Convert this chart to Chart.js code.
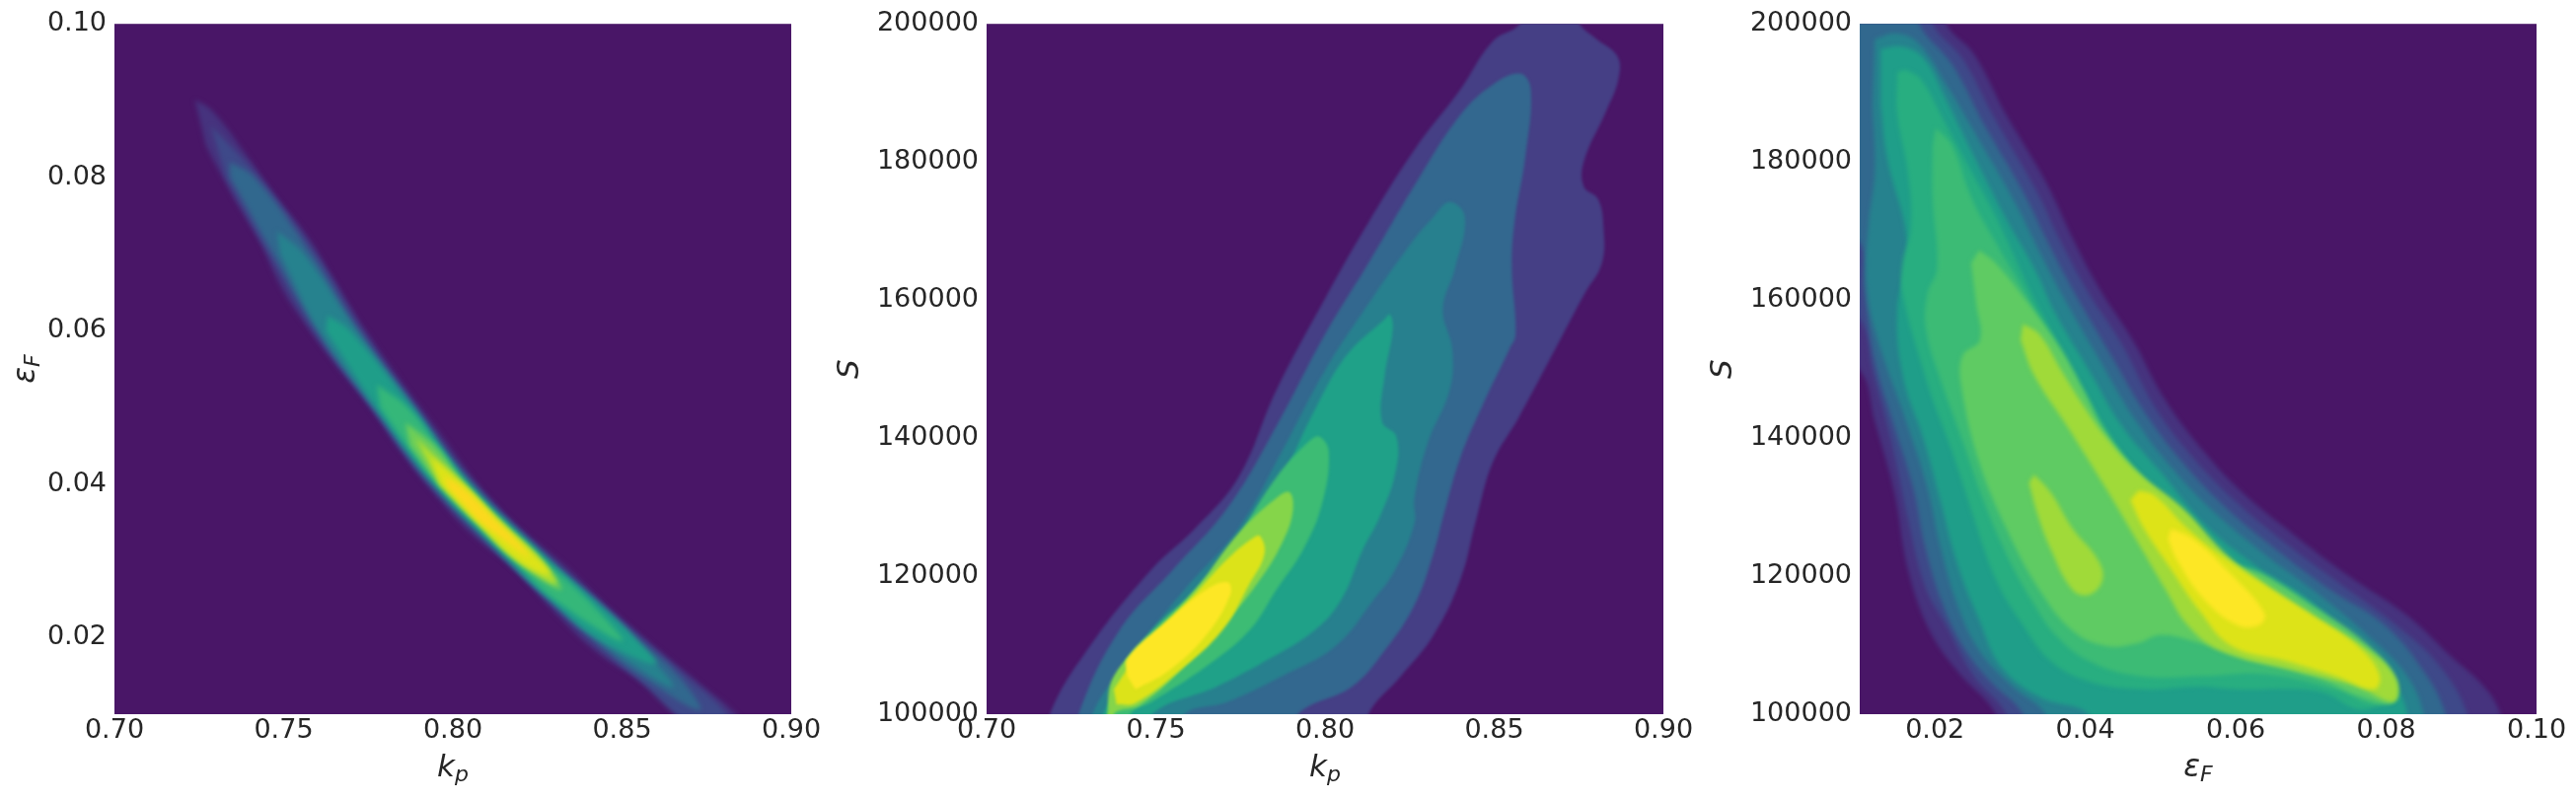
<!DOCTYPE html>
<html>
<head>
<meta charset="utf-8">
<title>Posterior density contours</title>
<script src="https://cdn.jsdelivr.net/npm/chart.js@4"></script>
<style>
  body { margin: 0; background: #fff; overflow: hidden; }
  canvas { position: absolute; top: 0; }
</style>
</head>
<body>
<canvas id="panelA" width="840" height="811" style="left:0"></canvas>
<canvas id="panelB" width="885" height="811" style="left:840px"></canvas>
<canvas id="panelC" width="886" height="811" style="left:1725px"></canvas>
<script>
// Tick values
const kpTicks = [0.70, 0.75, 0.80, 0.85, 0.90];
const epsTicks = [0.02, 0.04, 0.06, 0.08, 0.10];
const sTicks = [100000, 120000, 140000, 160000, 180000, 200000];

// Panel A: eps_F against k_p, contour outlines from lowest level to highest
const kpEps1 = [[.7238,.0901],[.7286,.0888],[.7382,.0834],[.7478,.0775],[.7574,.0721],[.7638,.0675],[.775,.0595],[.7846,.0535],[.7958,.0469],[.807,.0402],[.8182,.0349],[.8326,.0296],[.8469,.0236],[.8613,.0182],[.8741,.0136],[.8837,.01],[.8860,.008],[.8680,.008],[.8693,.01],[.8581,.0136],[.8422,.0182],[.8294,.0236],[.8182,.0289],[.8054,.0335],[.7942,.0389],[.7846,.0442],[.775,.0502],[.7654,.0555],[.7574,.0602],[.7494,.0655],[.743,.0715],[.735,.0775],[.727,.0841]];
const kpEps2 = [[.7285,.0867],[.7426,.08],[.7593,.07],[.7732,.06],[.7892,.05],[.8065,.04],[.8297,.03],[.8426,.025],[.8555,.02],[.8685,.015],[.8810,.01],[.882,.008],[.872,.008],[.8535,.015],[.8395,.02],[.8274,.025],[.8154,.03],[.7929,.04],[.776,.05],[.7588,.06],[.7457,.07],[.733,.08]];
const kpEps3 = [[.734,.082],[.7413,.08],[.758,.07],[.772,.06],[.7886,.05],[.8057,.04],[.8288,.03],[.8415,.025],[.854,.02],[.8665,.015],[.873,.0105],[.8555,.015],[.841,.02],[.8285,.025],[.8163,.03],[.7937,.04],[.7766,.05],[.76,.06],[.747,.07],[.7343,.08]];
const kpEps4 = [[.748,.073],[.756,.07],[.7715,.06],[.7884,.05],[.8051,.04],[.8286,.03],[.8415,.025],[.853,.02],[.865,.0135],[.842,.02],[.8285,.025],[.8166,.03],[.7943,.04],[.7768,.05],[.7605,.06],[.749,.07]];
const kpEps5 = [[.763,.062],[.7695,.06],[.7877,.05],[.8046,.04],[.8281,.03],[.841,.025],[.8535,.02],[.86,.0165],[.8425,.02],[.829,.025],[.8171,.03],[.7948,.04],[.7775,.05],[.7625,.06]];
const kpEps6 = [[.7775,.053],[.7866,.05],[.7954,.045],[.804,.04],[.815,.035],[.827,.03],[.8395,.025],[.85,.0195],[.83,.025],[.818,.03],[.8064,.035],[.7954,.04],[.7866,.045],[.7786,.05]];
const kpEps7 = [[.786,.048],[.7946,.045],[.8034,.04],[.8144,.035],[.8264,.03],[.832,.0262],[.8188,.03],[.807,.035],[.796,.04],[.7874,.045]];
const kpEps8 = [[.789,.046],[.8033,.04],[.8143,.035],[.8262,.03],[.8305,.027],[.819,.03],[.8071,.035],[.7961,.04]];
const kpEps9 = [[.7935,.0435],[.8028,.04],[.8138,.035],[.8257,.03],[.8285,.0282],[.8195,.03],[.8076,.035],[.7966,.04]];
const kpEps10 = [[.7975,.041],[.8028,.0395],[.8088,.037],[.8131,.035],[.8178,.033],[.8225,.0305],[.8145,.033],[.8083,.035],[.804,.037],[.7988,.0395]];
const kpEpsColors = ['#46337e', '#3e4989', '#31688e', '#26828e', '#1f9e89', '#35b779', '#6ece58', '#b5de2b', '#dde318', '#fbd81e'];

// Panel B: S against k_p
const kpS1 = [[.7187,96000],[.7187,100000],[.7296,109200],[.7488,121000],[.7616,126900],[.7744,134300],[.7856,146900],[.80,160200],[.8128,171200],[.8272,182300],[.84,190500],[.8496,197500],[.8576,200000],[.8600,204000],[.8720,204000],[.8752,200000],[.88,197900],[.8864,195300],[.8867,192000],[.8832,187500],[.8765,180100],[.8765,176400],[.8807,174600],[.8823,170500],[.8818,165300],[.8767,160900],[.8687,153500],[.8575,143200],[.8496,136500],[.8448,128400],[.84,119500],[.832,111400],[.8224,105500],[.8128,100000],[.8128,96000]];
const kpS2 = [[.7272,96000],[.7272,100000],[.7392,112100],[.7552,121000],[.7712,129900],[.7856,141700],[.80,155000],[.8128,165300],[.8272,177200],[.84,186800],[.8496,191200],[.8576,192800],[.8608,190500],[.8592,180800],[.856,171300],[.8552,164600],[.8563,155000],[.8544,152800],[.8464,144600],[.84,137200],[.8352,129100],[.832,123200],[.8264,115800],[.8176,109200],[.808,104000],[.792,100000],[.792,96000]];
const kpS3 = [[.7312,96000],[.7312,100000],[.744,109200],[.7584,118000],[.7744,126900],[.7872,138000],[.80,149800],[.8128,159400],[.8256,168300],[.832,172000],[.8368,174200],[.8413,172000],[.8384,164600],[.8348,158700],[.8376,152800],[.8368,146900],[.8304,139400],[.8264,131300],[.8264,127600],[.8208,121000],[.8144,116600],[.8032,109900],[.7872,105500],[.7712,101800],[.7584,100000],[.7584,96000]];
const kpS4 = [[.7344,96000],[.7344,100000],[.7488,110600],[.7616,117300],[.7744,124700],[.7872,134300],[.7968,143900],[.8064,152000],[.8176,157200],[.8192,157900],[.82,155700],[.8176,149000],[.8168,142400],[.8211,140200],[.8208,135000],[.816,128400],[.8112,123900],[.8048,116600],[.7968,112100],[.7824,107700],[.768,104000],[.7488,100000],[.7488,96000]];
const kpS5 = [[.736,96000],[.736,100000],[.7392,106200],[.7488,112100],[.7616,118000],[.7728,124700],[.7856,134300],[.7952,139500],[.7984,140200],[.8011,138000],[.7992,130600],[.7936,123900],[.7856,118000],[.7776,112100],[.7648,106900],[.7488,101800],[.7424,100000],[.7424,96000]];
const kpS6 = [[.7357,96000],[.7357,100000],[.7376,105500],[.7488,111400],[.7616,118000],[.7744,126200],[.7856,131300],[.7896,132100],[.7904,129100],[.7872,124700],[.7808,119500],[.7712,113600],[.7584,106900],[.7456,101400],[.7376,100000],[.7376,96000]];
const kpS7 = [[.7376,103600],[.7456,109200],[.76,116600],[.7712,122500],[.7784,125400],[.7808,125800],[.7821,123200],[.7776,118800],[.7696,112100],[.7568,106200],[.744,101600],[.7384,101400]];
const kpS8 = [[.7416,105500],[.7416,108100],[.7536,113600],[.7648,118000],[.7712,119100],[.772,117300],[.7648,111400],[.7536,106200],[.744,103600]];
const kpSColors = ['#453f85', '#33688f', '#27808e', '#1fa188', '#3dbc74', '#85d54a', '#dce319', '#fde725'];

// Panel C: S against eps_F
const epsS1 = [[.005,204000],[.0215,204000],[.0215,200000],[.0252,195600],[.0295,186800],[.0347,177200],[.0383,169000],[.0419,161600],[.0463,154200],[.0507,145400],[.0558,138000],[.0609,132100],[.0675,126200],[.0748,120200],[.0828,114300],[.0886,108400],[.093,104000],[.0952,100000],[.0952,96000],[.0281,96000],[.0281,100000],[.023,106200],[.0193,112100],[.0164,121000],[.0146,132100],[.012,142400],[.01,149800],[.005,151000]];
const epsS2 = [[.005,204000],[.0197,204000],[.0197,200000],[.0237,194900],[.0281,186000],[.0332,176400],[.0368,168300],[.0405,160900],[.0449,153500],[.0492,144600],[.0543,137200],[.0602,130600],[.0667,124700],[.074,118800],[.0813,112900],[.0872,106900],[.0908,100000],[.0908,96000],[.0295,96000],[.0295,100000],[.0252,105500],[.0215,112800],[.0186,118800],[.0164,128400],[.0142,139500],[.0117,149800],[.01,157200],[.005,160000]];
const epsS3 = [[.005,204000],[.0179,204000],[.0179,200000],[.0223,194100],[.0266,185300],[.0317,175700],[.0354,167500],[.039,160200],[.0434,152000],[.0478,143900],[.0529,136500],[.0587,129900],[.0653,123900],[.0726,118000],[.0799,112800],[.085,106200],[.0879,100000],[.0879,96000],[.0317,96000],[.0317,100000],[.0274,104700],[.0237,109900],[.0208,116600],[.0186,124700],[.0171,132800],[.0146,141700],[.012,151300],[.0106,161600],[.01,168300],[.005,170000]];
const epsS4 = [[.012,197800],[.015,198600],[.0179,197100],[.0215,191200],[.0259,183100],[.0306,174200],[.0343,166100],[.0376,159400],[.0419,151300],[.0463,143200],[.0514,135800],[.0573,129100],[.0638,123200],[.0711,117300],[.0784,110600],[.0828,105500],[.085,100000],[.085,96000],[.0347,96000],[.0347,100000],[.0303,104000],[.0259,109200],[.023,115800],[.0208,123900],[.019,132800],[.0164,141700],[.012,155700],[.0109,163100],[.0112,171200],[.012,178600],[.0117,188200]];
const epsS5 = [[.0128,196400],[.0157,196700],[.0186,194900],[.0215,189000],[.0252,180800],[.0295,171700],[.0332,164600],[.0361,157900],[.0405,149800],[.0449,141700],[.05,135100],[.0558,127600],[.0624,121700],[.0697,116600],[.077,109200],[.0813,104000],[.0828,100000],[.0828,96000],[.0405,96000],[.0405,100000],[.0339,102500],[.0288,106900],[.0259,113600],[.023,121700],[.0208,130600],[.0186,139500],[.0157,149100],[.015,158700],[.0164,167500],[.0136,180800],[.0128,188200]];
const epsS6 = [[.0161,193400],[.0182,191900],[.0215,185300],[.0252,177900],[.0288,170500],[.0325,161700],[.0354,155700],[.039,148300],[.0434,140200],[.0485,132800],[.0543,125400],[.0609,119500],[.0682,115100],[.0762,107700],[.0802,103300],[.0769,100700],[.0711,103300],[.0602,103600],[.0551,104000],[.0478,103600],[.0405,104700],[.0354,107700],[.0317,112900],[.0281,119500],[.0252,128400],[.0223,138000],[.0193,146900],[.0157,160900],[.0157,165300],[.0168,170500],[.0164,178600],[.015,186800],[.015,193000]];
const epsS7 = [[.0201,184900],[.0223,182300],[.0248,174900],[.0281,168300],[.0317,161600],[.0346,155700],[.0383,147600],[.0427,139500],[.0478,131300],[.0536,124700],[.0602,119500],[.0675,115100],[.0748,109900],[.0799,105500],[.081,102100],[.0784,101400],[.0733,103600],[.0638,105800],[.0558,105500],[.0471,105500],[.0405,107700],[.0361,111400],[.0328,116600],[.0295,123200],[.0266,130600],[.0237,139500],[.0208,148300],[.0188,155700],[.019,160900],[.0203,164600],[.0197,174900],[.0197,182300]];
const epsS8 = [[.0259,167200],[.0281,165300],[.0325,159400],[.0368,152800],[.0398,146900],[.0427,140900],[.0471,134900],[.0529,129100],[.0587,122500],[.0638,120200],[.0711,115100],[.0777,109900],[.0813,105100],[.081,101800],[.0769,102500],[.0703,105500],[.0602,108400],[.0543,110600],[.05,111500],[.047,110300],[.0427,109900],[.0383,112100],[.0339,118000],[.0295,126900],[.0259,136500],[.0235,147600],[.0237,152000],[.026,154200],[.0255,159400],[.0248,165300]];
const epsS9 = [[.0317,156500],[.0339,155000],[.0368,149800],[.0398,144600],[.0427,140200],[.0471,134900],[.0529,129900],[.0587,123200],[.0638,118800],[.0711,113600],[.0777,109200],[.0813,105100],[.081,101800],[.0762,104000],[.0682,106200],[.058,109200],[.0536,112900],[.0507,118000],[.0471,124700],[.0427,132800],[.0376,141700],[.0332,149100],[.0314,154200]];
const epsS9b = [[.0332,134700],[.0354,132100],[.0383,126900],[.0416,122500],[.0423,119500],[.0405,117300],[.0383,118000],[.0354,123900],[.0336,129100],[.0325,133500]];
const epsS10 = [[.0471,132400],[.0492,131700],[.0536,126900],[.0587,122500],[.0638,118800],[.0703,114300],[.0762,109900],[.0791,105800],[.0784,103600],[.0733,105500],[.0667,107700],[.0594,109900],[.0551,115100],[.0514,121000],[.0478,126900],[.046,131000]];
const epsS11 = [[.0514,126900],[.0543,125400],[.0587,121000],[.0638,114700],[.0631,112900],[.0602,112900],[.0558,116600],[.0521,122500],[.051,125400]];
const epsSColors = ['#46337e', '#3e4989', '#31688e', '#26828e', '#1f9e89', '#28ae80', '#3cbb75', '#5fcb63', '#a0da39', '#a0da39', '#dde318', '#fde725'];

const plotBackground = '#491667';
const textColor = '#262626';
const fontFamily = '"DejaVu Sans"';

// Draws an italic letter with a smaller subscript after it, centred on the current origin
function drawMathLabel(ctx, base, sub) {
    ctx.fillStyle = textColor;
    ctx.textBaseline = 'middle';
    ctx.textAlign = 'left';
    ctx.font = 'italic 31px ' + fontFamily;
    const baseWidth = ctx.measureText(base).width;
    ctx.font = 'italic 22px ' + fontFamily;
    const subWidth = sub ? ctx.measureText(sub).width : 0;
    const start = -(baseWidth + subWidth) / 2;
    ctx.font = 'italic 31px ' + fontFamily;
    ctx.fillText(base, start, 0);
    if (sub) {
        ctx.font = 'italic 22px ' + fontFamily;
        ctx.fillText(sub, start + baseWidth, 7);
    }
}

function makePanel(id, cfg) {
    const ticksStyle = {
        color: textColor,
        font: { family: fontFamily, size: 27 },
        autoSkip: false,
        maxRotation: 0,
        z: 1
    };

    // Later levels have to be painted on top, and Chart.js fills the first dataset last
    const datasets = cfg.levels.map((points, i) => ({
        data: points,
        showLine: true,
        fill: 'shape',
        backgroundColor: cfg.colors[i],
        borderWidth: 0,
        pointRadius: 0,
        tension: 0.4
    })).reverse();

    new Chart(document.getElementById(id), {
        type: 'scatter',
        data: { datasets: datasets },
        options: {
            responsive: false,
            animation: false,
            events: [],
            layout: {
                padding: { left: cfg.plotLeft - 110, right: cfg.rightPad, top: 20, bottom: 47 }
            },
            plugins: {
                legend: { display: false },
                tooltip: { enabled: false }
            },
            scales: {
                x: {
                    type: 'linear',
                    min: cfg.xMin,
                    max: cfg.xMax,
                    grid: { display: false, drawTicks: false },
                    border: { display: false },
                    afterBuildTicks: scale => { scale.ticks = cfg.xTicks.map(v => ({ value: v })); },
                    afterFit: scale => { scale.height = 40; },
                    ticks: { ...ticksStyle, padding: 1, callback: v => v.toFixed(2) }
                },
                y: {
                    type: 'linear',
                    min: cfg.yMin,
                    max: cfg.yMax,
                    grid: { display: false, drawTicks: false },
                    border: { display: false },
                    afterBuildTicks: scale => { scale.ticks = cfg.yTicks.map(v => ({ value: v })); },
                    afterFit: scale => { scale.width = 110; },
                    ticks: { ...ticksStyle, padding: 8, callback: cfg.yFormat }
                }
            }
        },
        plugins: [{
            id: 'softContours',
            beforeDraw(chart) {
                const a = chart.chartArea;
                chart.ctx.fillStyle = plotBackground;
                chart.ctx.fillRect(a.left, a.top, a.right - a.left, a.bottom - a.top);
                chart.ctx.filter = 'blur(' + cfg.blur + 'px)';
            },
            afterDatasetsDraw(chart) {
                chart.ctx.filter = 'none';
            },
            afterDraw(chart) {
                const ctx = chart.ctx;
                const a = chart.chartArea;
                ctx.save();
                ctx.translate((a.left + a.right) / 2, 779);
                drawMathLabel(ctx, cfg.xLabel[0], cfg.xLabel[1]);
                ctx.restore();
                ctx.save();
                ctx.translate(cfg.yLabelX, (a.top + a.bottom) / 2);
                ctx.rotate(-Math.PI / 2);
                drawMathLabel(ctx, cfg.yLabel[0], cfg.yLabel[1]);
                ctx.restore();
            }
        }]
    });
}

const fixed2 = v => v.toFixed(2);
const plain = v => String(v);

makePanel('panelA', {
    levels: [kpEps1, kpEps2, kpEps3, kpEps4, kpEps5, kpEps6, kpEps7, kpEps8, kpEps9, kpEps10],
    colors: kpEpsColors,
    xMin: 0.70, xMax: 0.90, yMin: 0.01, yMax: 0.10,
    xTicks: kpTicks, yTicks: epsTicks, yFormat: fixed2,
    xLabel: ['k', 'p'], yLabel: ['\u03b5', 'F'],
    plotLeft: 116, rightPad: 38, yLabelX: 27, blur: 2.5
});

makePanel('panelB', {
    levels: [kpS1, kpS2, kpS3, kpS4, kpS5, kpS6, kpS7, kpS8],
    colors: kpSColors,
    xMin: 0.70, xMax: 0.90, yMin: 100000, yMax: 200000,
    xTicks: kpTicks, yTicks: sTicks, yFormat: plain,
    xLabel: ['k', 'p'], yLabel: ['S', ''],
    plotLeft: 160, rightPad: 39, yLabelX: 22, blur: 1.5
});

makePanel('panelC', {
    levels: [epsS1, epsS2, epsS3, epsS4, epsS5, epsS6, epsS7, epsS8, epsS9, epsS9b, epsS10, epsS11],
    colors: epsSColors,
    xMin: 0.01, xMax: 0.10, yMin: 100000, yMax: 200000,
    xTicks: epsTicks, yTicks: sTicks, yFormat: plain,
    xLabel: ['\u03b5', 'F'], yLabel: ['S', ''],
    plotLeft: 160, rightPad: 40, yLabelX: 22, blur: 2
});
</script>
</body>
</html>
